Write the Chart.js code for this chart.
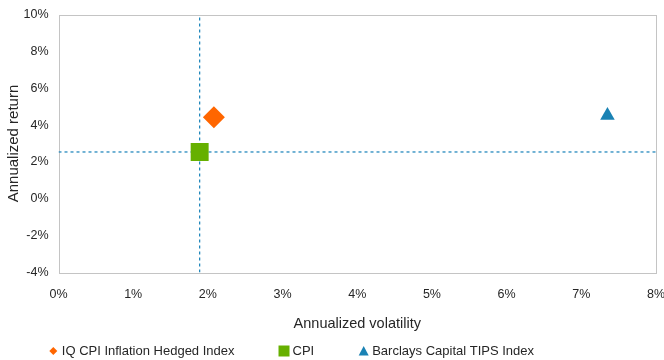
<!DOCTYPE html>
<html>
<head>
<meta charset="utf-8">
<script src="https://cdn.jsdelivr.net/npm/chart.js@4/dist/chart.umd.min.js"></script>
<style>
  html, body { margin: 0; padding: 0; background: #fff; }
  #wrap { width: 664px; height: 360px; position: relative; }
</style>
</head>
<body>
<div id="wrap"><canvas id="c" width="664" height="360"></canvas></div>
<script>
// Risk / return of each index (annualized, in %)
const seriesNames = ['IQ CPI Inflation Hedged Index', 'CPI', 'Barclays Capital TIPS Index'];
const volatility  = [2.08, 1.89, 7.35];
const returns     = [4.42, 2.54, 4.52];

// Axis ticks (in %)
const xTicks = [0, 1, 2, 3, 4, 5, 6, 7, 8];
const yTicks = [-4, -2, 0, 2, 4, 6, 8, 10];

const markerStyles = ['rectRot', 'rect', 'triangle'];
const markerColors = ['#ff6600', '#66b000', '#1a82b4'];
const markerRadius = [11, 12.7, 8.4];
const guideColor = '#1580b8';
const FONT = 'Liberation Sans, Arial, sans-serif';
const TEXT = '#262626';

const cpi = seriesNames.indexOf('CPI');

const pointSets = seriesNames.map((name, i) => ({
  label: name,
  data: [{ x: volatility[i], y: returns[i] }],
  pointStyle: markerStyles[i],
  pointRadius: markerRadius[i],
  pointHoverRadius: markerRadius[i],
  backgroundColor: markerColors[i],
  borderColor: markerColors[i],
  borderWidth: 0,
  showLine: false
}));

// dotted cross-hairs through the CPI point
const guideSets = [
  { label: 'cpi-vol', data: [{ x: volatility[cpi], y: yTicks[0] }, { x: volatility[cpi], y: yTicks[yTicks.length - 1] }] },
  { label: 'cpi-ret', data: [{ x: xTicks[0], y: returns[cpi] }, { x: xTicks[xTicks.length - 1], y: returns[cpi] }] }
].map(d => Object.assign(d, {
  showLine: true, borderColor: guideColor, borderWidth: 1.2, borderDash: [3, 3],
  pointRadius: 0, pointHoverRadius: 0, fill: false
}));

// light frame around the plot area
const frame = {
  id: 'frame',
  beforeDatasetsDraw(chart) {
    const { ctx, chartArea: a } = chart;
    ctx.save();
    ctx.strokeStyle = '#c4c4c4';
    ctx.lineWidth = 1;
    ctx.strokeRect(Math.round(a.left) + 0.5, Math.round(a.top) + 0.5,
                   Math.round(a.right - a.left) - 1, Math.round(a.bottom - a.top));
    ctx.restore();
  }
};

function drawMarker(ctx, style, cx, cy, color) {
  ctx.fillStyle = color;
  ctx.beginPath();
  if (style === 'rectRot') {
    const r = 4;
    ctx.moveTo(cx, cy - r); ctx.lineTo(cx + r, cy); ctx.lineTo(cx, cy + r); ctx.lineTo(cx - r, cy);
  } else if (style === 'rect') {
    ctx.rect(cx - 5.5, cy - 5.5, 11, 11);
  } else {
    ctx.moveTo(cx, cy - 5); ctx.lineTo(cx + 5, cy + 4.5); ctx.lineTo(cx - 5, cy + 4.5);
  }
  ctx.closePath();
  ctx.fill();
}

// legend row along the bottom
const legendRow = {
  id: 'legendRow',
  afterDraw(chart) {
    const ctx = chart.ctx;
    ctx.save();
    ctx.font = '13px ' + FONT;
    ctx.textBaseline = 'middle';
    let x = 53.3;
    const y = 351;
    seriesNames.forEach((name, i) => {
      drawMarker(ctx, markerStyles[i], x, y, markerColors[i]);
      const tx = x + 8.5;
      ctx.fillStyle = TEXT;
      ctx.fillText(name, tx, y);
      x = tx + ctx.measureText(name).width + 49.5;
    });
    ctx.restore();
  }
};

// keep tick labels from shrinking the plot area
function noOverflow(s) {
  s.paddingLeft = 0; s.paddingRight = 0; s.paddingTop = 0; s.paddingBottom = 0;
}

new Chart(document.getElementById('c'), {
  type: 'scatter',
  data: { datasets: [...pointSets, ...guideSets] },
  options: {
    responsive: false,
    animation: false,
    devicePixelRatio: 1,
    layout: { autoPadding: false, padding: { left: 0, top: 14.5, right: 8, bottom: 27.3 } },
    plugins: { legend: { display: false }, tooltip: { enabled: false } },
    scales: {
      x: {
        type: 'linear', min: xTicks[0], max: xTicks[xTicks.length - 1],
        afterBuildTicks: s => { s.ticks = xTicks.map(v => ({ value: v })); },
        afterFit: s => { s.height = 60.2; noOverflow(s); },
        grid: { display: false, drawTicks: false },
        border: { display: false },
        ticks: { padding: 15, color: TEXT, font: { family: FONT, size: 12.5 }, callback: v => v + '%' },
        title: { display: true, text: 'Annualized volatility', color: TEXT,
                 font: { family: FONT, size: 14.5 }, padding: { top: 0, bottom: 0 } }
      },
      y: {
        type: 'linear', min: yTicks[0], max: yTicks[yTicks.length - 1],
        afterBuildTicks: s => { s.ticks = yTicks.map(v => ({ value: v })); },
        afterFit: s => { s.width = 58.5; noOverflow(s); },
        grid: { display: false, drawTicks: false },
        border: { display: false },
        ticks: { padding: 10, color: TEXT, font: { family: FONT, size: 12.5 }, callback: v => v + '%' },
        title: { display: true, text: 'Annualized return', color: TEXT,
                 font: { family: FONT, size: 15 }, padding: { top: 5, bottom: 0 } }
      }
    }
  },
  plugins: [frame, legendRow]
});
</script>
</body>
</html>
